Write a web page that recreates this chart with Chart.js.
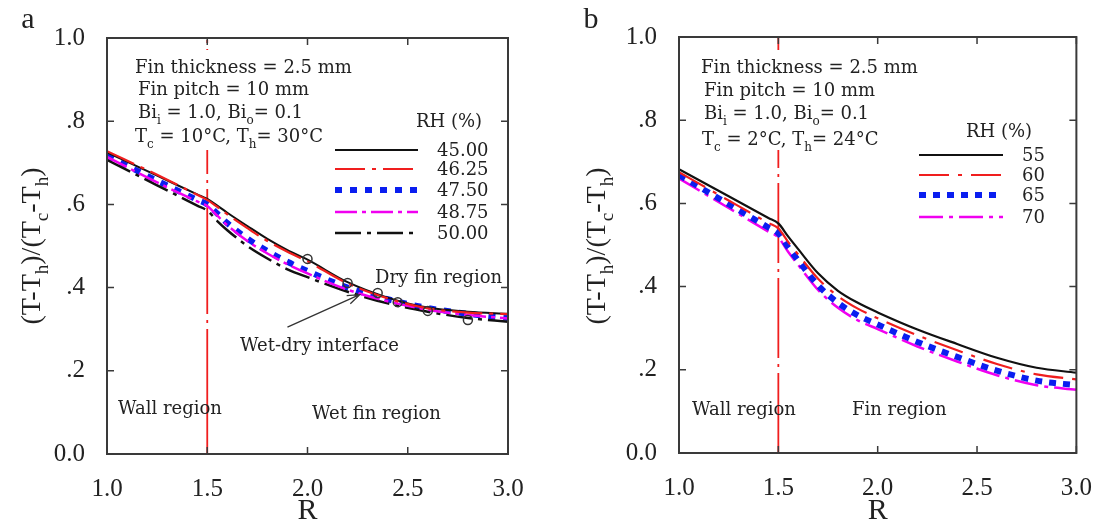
<!DOCTYPE html>
<html>
<head>
<meta charset="utf-8">
<script src="https://cdn.jsdelivr.net/npm/chart.js@4.4.1/dist/chart.umd.min.js"></script>
<style>
  body { margin: 0; background: #fff; }
  #wrap { position: relative; width: 1104px; height: 528px; background: #fff; }
  .panel { position: absolute; top: 0; width: 552px; height: 528px; }
</style>
</head>
<body>
<div id="wrap">
  <div class="panel" style="left:0"><canvas id="chartA" width="552" height="528"></canvas></div>
  <div class="panel" style="left:552px"><canvas id="chartB" width="552" height="528"></canvas></div>
</div>
<script>
// dimensionless radius R
var rGrid = [1.0, 1.25, 1.45, 1.5, 1.55, 1.6, 1.7, 1.8, 1.9, 2.0, 2.2, 2.4, 2.6, 2.8, 3.0];
var xTicks = [1.0, 1.5, 2.0, 2.5, 3.0];
var wallR = 1.5;

// panel a : Tc = 10C, Th = 30C
var rhLabelsA = ['45.00', '46.25', '47.50', '48.75', '50.00'];
var thetaA45 = [0.725, 0.669, 0.624, 0.613, 0.597, 0.580, 0.548, 0.517, 0.490, 0.467, 0.413, 0.376, 0.352, 0.342, 0.337];
var thetaA4625 = [0.728, 0.671, 0.623, 0.611, 0.594, 0.576, 0.543, 0.512, 0.486, 0.463, 0.410, 0.374, 0.350, 0.340, 0.336];
var thetaA475 = [0.717, 0.657, 0.611, 0.600, 0.578, 0.555, 0.518, 0.488, 0.462, 0.440, 0.400, 0.372, 0.351, 0.337, 0.327];
var thetaA4875 = [0.714, 0.653, 0.607, 0.596, 0.573, 0.550, 0.512, 0.482, 0.456, 0.434, 0.395, 0.367, 0.347, 0.334, 0.326];
var thetaA50 = [0.707, 0.646, 0.597, 0.585, 0.560, 0.538, 0.500, 0.470, 0.444, 0.425, 0.390, 0.362, 0.342, 0.327, 0.318];
// wet-dry interface points
var interfaceR = [2.0, 2.2, 2.35, 2.45, 2.6, 2.8];
var interfaceTheta = [0.469, 0.411, 0.387, 0.365, 0.344, 0.322];

// panel b : Tc = 2C, Th = 24C
var rhLabelsB = ['55', '60', '65', '70'];
var thetaB55 = [0.682, 0.617, 0.565, 0.552, 0.520, 0.490, 0.432, 0.390, 0.361, 0.338, 0.297, 0.262, 0.229, 0.205, 0.193];
var thetaB60 = [0.675, 0.607, 0.553, 0.540, 0.507, 0.477, 0.419, 0.377, 0.347, 0.324, 0.283, 0.247, 0.214, 0.189, 0.177];
var thetaB65 = [0.668, 0.598, 0.542, 0.528, 0.494, 0.463, 0.403, 0.361, 0.331, 0.309, 0.267, 0.231, 0.198, 0.174, 0.163];
var thetaB70 = [0.660, 0.589, 0.532, 0.518, 0.483, 0.452, 0.392, 0.349, 0.319, 0.298, 0.256, 0.220, 0.187, 0.163, 0.152];

var SERIF = "'Liberation Serif', 'Times New Roman', serif";
var WIDE = "'DejaVu Serif', serif";
var RED = '#f01e1e', BLUE = '#0a1ef0', MAGENTA = '#f000f0', INK = '#222';

function pts(xs, ys) {
  return xs.map(function(x, i) { return {x: x, y: ys[i]}; });
}

function curve(label, ys, color, width, dash, order) {
  return {
    label: label, data: pts(rGrid, ys), borderColor: color, borderWidth: width,
    borderDash: dash, borderCapStyle: 'butt', pointRadius: 0, order: order || 0,
    cubicInterpolationMode: 'monotone', fill: false, isSeries: true
  };
}

// "Bi_{i}" -> normal / subscript pieces
function richParts(str) {
  var out = [], re = /_\{([^}]*)\}/g, last = 0, m;
  while ((m = re.exec(str))) {
    if (m.index > last) out.push({t: str.slice(last, m.index), sub: false});
    out.push({t: m[1], sub: true});
    last = re.lastIndex;
  }
  if (last < str.length) out.push({t: str.slice(last), sub: false});
  return out;
}

function drawRich(ctx, str, x, yMid, size, family, align) {
  var parts = richParts(str), w = 0;
  var subSize = Math.round(size * 0.68);
  parts.forEach(function(p) {
    ctx.font = (p.sub ? subSize : size) + 'px ' + family;
    p.w = ctx.measureText(p.t).width;
    w += p.w;
  });
  var cx = align === 'center' ? x - w / 2 : x;
  var base = yMid + size * 0.35;
  ctx.textAlign = 'left';
  ctx.textBaseline = 'alphabetic';
  parts.forEach(function(p) {
    ctx.font = (p.sub ? subSize : size) + 'px ' + family;
    ctx.fillText(p.t, cx, base + (p.sub ? size * 0.3 : 0));
    cx += p.w;
  });
}

function makeDecor(d) {
  return {
    id: 'decor',
    afterDatasetsDraw: function(chart) {
      var ctx = chart.ctx, a = chart.chartArea;
      var xs = chart.scales.x, ys = chart.scales.y;
      ctx.save();
      // white box behind the parameter text
      ctx.fillStyle = '#fff';
      ctx.fillRect(d.textBox[0], d.textBox[1], d.textBox[2], d.textBox[3]);
      ctx.fillStyle = INK;
      d.texts.forEach(function(t) {
        drawRich(ctx, t[0], t[1], t[2], t[3] || 18, WIDE, 'left');
      });
      // legend built from the series datasets
      drawRich(ctx, 'RH (%)', d.legend.titleX, d.legend.titleY, 18, WIDE, 'left');
      var series = chart.data.datasets.filter(function(ds) { return ds.isSeries; });
      series.forEach(function(ds, i) {
        var y = d.legend.rows[i];
        ctx.beginPath();
        ctx.setLineDash(ds.borderDash || []);
        ctx.lineCap = 'butt';
        ctx.lineWidth = ds.borderWidth;
        ctx.strokeStyle = ds.borderColor;
        ctx.moveTo(d.legend.x0, y);
        ctx.lineTo(d.legend.x1, y);
        ctx.stroke();
        ctx.setLineDash([]);
        ctx.fillStyle = INK;
        drawRich(ctx, ds.label, d.legend.labelX, y, 18, WIDE, 'left');
      });
      // arrow to the wet-dry interface
      if (d.arrow) {
        var x0 = xs.getPixelForValue(d.arrow[0]), y0 = ys.getPixelForValue(d.arrow[1]);
        var x1 = xs.getPixelForValue(d.arrow[2]), y1 = ys.getPixelForValue(d.arrow[3]);
        var ang = Math.atan2(y1 - y0, x1 - x0);
        ctx.strokeStyle = '#333';
        ctx.lineWidth = 1.3;
        ctx.beginPath();
        ctx.moveTo(x0, y0); ctx.lineTo(x1, y1);
        ctx.moveTo(x1 - 13 * Math.cos(ang - 0.35), y1 - 13 * Math.sin(ang - 0.35));
        ctx.lineTo(x1, y1);
        ctx.lineTo(x1 - 13 * Math.cos(ang + 0.35), y1 - 13 * Math.sin(ang + 0.35));
        ctx.stroke();
      }
      // panel letter and y title
      ctx.fillStyle = INK;
      ctx.font = '30px ' + SERIF;
      ctx.textAlign = 'center';
      ctx.textBaseline = 'middle';
      ctx.fillText(d.letter[0], d.letter[1], d.letter[2]);
      ctx.translate(d.yTitle[0], d.yTitle[1]);
      ctx.rotate(-Math.PI / 2);
      drawRich(ctx, '(T-T_{h})/(T_{c}-T_{h})', 0, 0, 28, SERIF, 'center');
      ctx.restore();

      // frame and inward ticks
      ctx.save();
      ctx.strokeStyle = '#3a3a3a';
      ctx.lineWidth = 2;
      ctx.strokeRect(a.left, a.top, a.right - a.left, a.bottom - a.top);
      ctx.lineWidth = 1.5;
      ctx.beginPath();
      xs.ticks.forEach(function(t) {
        var px = xs.getPixelForValue(t.value);
        ctx.moveTo(px, a.bottom); ctx.lineTo(px, a.bottom - 7);
        ctx.moveTo(px, a.top); ctx.lineTo(px, a.top + 7);
      });
      ys.ticks.forEach(function(t) {
        var py = ys.getPixelForValue(t.value);
        ctx.moveTo(a.left, py); ctx.lineTo(a.left + 7, py);
        ctx.moveTo(a.right, py); ctx.lineTo(a.right - 7, py);
      });
      ctx.stroke();
      ctx.restore();
    }
  };
}

function scalesFor(yWidth, xHeight) {
  return {
    x: {
      type: 'linear', min: 1, max: 3,
      afterBuildTicks: function(s) { s.ticks = xTicks.map(function(v) { return {value: v}; }); },
      afterFit: function(s) { s.height = xHeight; },
      grid: {display: false}, border: {display: false},
      ticks: {
        color: INK, padding: 12, font: {family: SERIF, size: 25},
        callback: function(v) { return Number(v).toFixed(1); }
      },
      title: {display: true, text: 'R', color: INK, padding: 0, font: {family: SERIF, size: 30, lineHeight: 1.1}}
    },
    y: {
      min: 0, max: 1,
      afterFit: function(s) { s.width = yWidth; },
      grid: {display: false}, border: {display: false},
      ticks: {
        stepSize: 0.2, color: INK, padding: 14, font: {family: SERIF, size: 25},
        callback: function(v) {
          if (Math.abs(v) < 1e-6) return '0.0';
          if (Math.abs(v - 1) < 1e-6) return '1.0';
          return '.' + Math.round(v * 10);
        }
      }
    }
  };
}

function wallLine(dash) {
  return {
    label: 'wall', data: [{x: wallR, y: 0}, {x: wallR, y: 1}], borderColor: RED,
    borderWidth: 1.8, borderDash: dash, pointRadius: 0, fill: false, order: 5
  };
}

new Chart(document.getElementById('chartA'), {
  type: 'line',
  data: {
    datasets: [
      curve(rhLabelsA[0], thetaA45, '#111', 2, [], 1),
      curve(rhLabelsA[1], thetaA4625, RED, 2.2, [30, 7, 4, 7], -1),
      curve(rhLabelsA[2], thetaA475, BLUE, 6, [7, 8], 2),
      curve(rhLabelsA[3], thetaA4875, MAGENTA, 2.5, [22, 5, 4, 5], 1),
      curve(rhLabelsA[4], thetaA50, '#111', 2.5, [26, 6, 4, 6], 1),
      {
        label: 'interface', data: pts(interfaceR, interfaceTheta), showLine: false,
        pointRadius: 4.5, pointBorderWidth: 1.5, pointBorderColor: '#333',
        pointBackgroundColor: 'rgba(0,0,0,0)', order: -2
      },
      wallLine([125, 6, 3, 6])
    ]
  },
  options: {
    responsive: false, animation: false,
    layout: {padding: {top: 38, right: 44, left: 0, bottom: 0}},
    plugins: {legend: {display: false}, tooltip: {enabled: false}},
    scales: scalesFor(107, 74)
  },
  plugins: [makeDecor({
    letter: ['a', 28, 20],
    yTitle: [30, 246],
    textBox: [130, 50, 226, 100],
    texts: [
      ['Fin thickness = 2.5 mm', 135, 67],
      ['Fin pitch = 10 mm', 138, 89],
      ['Bi_{i} = 1.0, Bi_{o}= 0.1', 138, 112],
      ['T_{c} = 10\u00b0C, T_{h}= 30\u00b0C', 135, 136],
      ['Dry fin region', 375, 277],
      ['Wet-dry interface', 240, 345],
      ['Wall region', 118, 408],
      ['Wet fin region', 312, 413]
    ],
    legend: {titleX: 416, titleY: 121, x0: 335, x1: 418, labelX: 437, rows: [150, 169, 190, 212, 233]},
    arrow: [1.90, 0.305, 2.26, 0.383]
  })]
});

new Chart(document.getElementById('chartB'), {
  type: 'line',
  data: {
    datasets: [
      curve(rhLabelsB[0], thetaB55, '#111', 2.2, [], 0),
      curve(rhLabelsB[1], thetaB60, RED, 2.2, [30, 9, 4, 9], 0),
      curve(rhLabelsB[2], thetaB65, BLUE, 6, [7, 7], 1),
      curve(rhLabelsB[3], thetaB70, MAGENTA, 2.5, [24, 6, 4, 6], 2),
      wallLine([80, 6, 3, 6])
    ]
  },
  options: {
    responsive: false, animation: false,
    layout: {padding: {top: 37, right: 24, left: 0, bottom: 0}},
    plugins: {legend: {display: false}, tooltip: {enabled: false}},
    scales: scalesFor(127, 75)
  },
  plugins: [makeDecor({
    letter: ['b', 39, 20],
    yTitle: [43, 246],
    textBox: [144, 50, 226, 100],
    texts: [
      ['Fin thickness = 2.5 mm', 149, 67],
      ['Fin pitch = 10 mm', 152, 90],
      ['Bi_{i} = 1.0, Bi_{o}= 0.1', 152, 113],
      ['T_{c} = 2\u00b0C, T_{h}= 24\u00b0C', 150, 139],
      ['Wall region', 140, 409],
      ['Fin region', 300, 409]
    ],
    legend: {titleX: 414, titleY: 131, x0: 367, x1: 451, labelX: 470, rows: [155, 175, 195, 217]},
    arrow: null
  })]
});
</script>
</body>
</html>
